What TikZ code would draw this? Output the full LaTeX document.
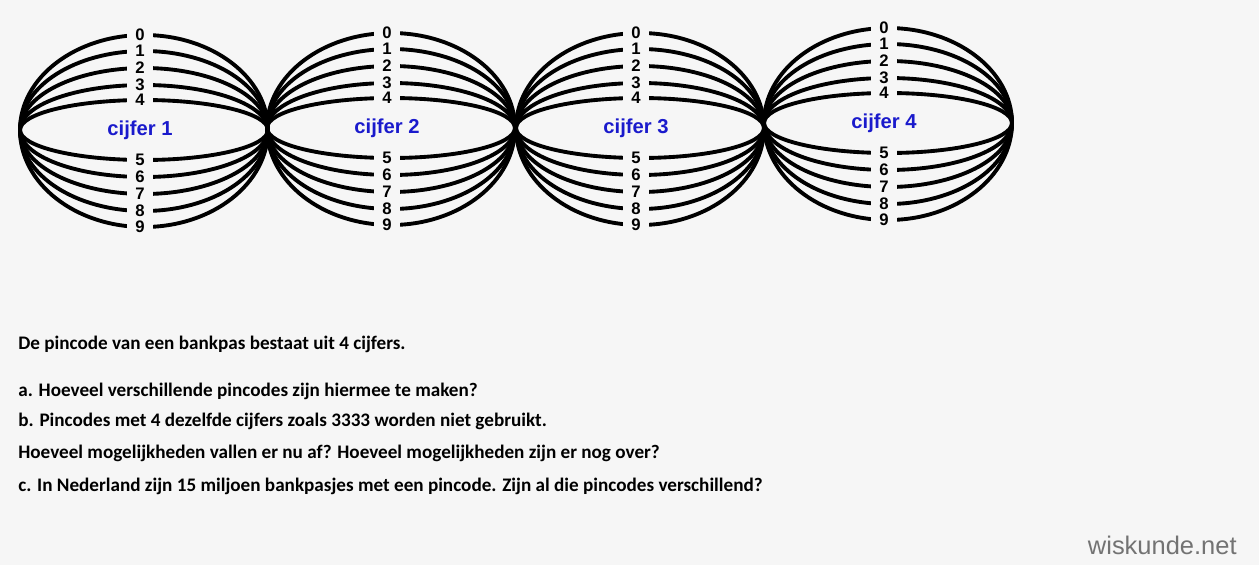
\documentclass[tikz,border=0pt]{standalone}
\usepackage{fontspec}
\setmainfont{Carlito}
\newfontfamily\arialfont{Liberation Sans}
\definecolor{bgpaper}{HTML}{F6F6F6}
\definecolor{cijferblue}{HTML}{1A1ACC}
\tikzset
{
    strand/.style = {line width=2.2pt, black},
    digit/.style  = {fill=bgpaper, inner xsep=5pt, inner ysep=0pt, font=\arialfont\bfseries\fontsize{9.5}{9.5}\selectfont},
    grouptitle/.style = {font=\arialfont\bfseries\fontsize{11.5}{12}\selectfont, text=cijferblue},
    question/.style = {anchor=base west, inner sep=0pt, font=\bfseries\fontsize{10.9}{12}\selectfont}
}
\begin{document}
\begin{tikzpicture}[x=0.02cm, y=-0.02cm]
   \fill[bgpaper] (0,0) rectangle (1259,565);
   \useasboundingbox (0,0) rectangle (1259,565);

   \foreach \n/\L/\cy in {1/20/130, 2/267/128, 3/516/128, 4/764/123}
   {
      % upper strands 0-4, lower strands 5-9
      \foreach \d/\off in {0/-95, 1/-79, 2/-62, 3/-45, 4/-30, 5/30, 6/47, 7/64, 8/81, 9/97}
      {
         \draw[strand] (\L,\cy) arc[start angle=180, end angle=0, x radius=124, y radius=\off];
         \node (d\n\d) [digit] at (\L+120,\cy+\off) {\d};
      }
      \node (t\n) [grouptitle] at (\L+120,\cy) {cijfer \n};
   }

   \node (q0) [question] at (18,349) {De pincode van een bankpas bestaat uit 4 cijfers.};
   \node (q1) [question] at (18,396) {a. Hoeveel verschillende pincodes zijn hiermee te maken?};
   \node (q2) [question] at (18,426) {b. Pincodes met 4 dezelfde cijfers zoals 3333 worden niet gebruikt.};
   \node (q3) [question] at (18,458) {Hoeveel mogelijkheden vallen er nu af? Hoeveel mogelijkheden zijn er nog over?};
   \node (q4) [question] at (18,491) {c. In Nederland zijn 15 miljoen bankpasjes met een pincode. Zijn al die pincodes verschillend?};
   \node (wm) [anchor=base east, inner sep=0pt, text=black!55, font=\arialfont\fontsize{14.5}{14}\selectfont] at (1237,554) {wiskunde.net};
\end{tikzpicture}
\end{document}
